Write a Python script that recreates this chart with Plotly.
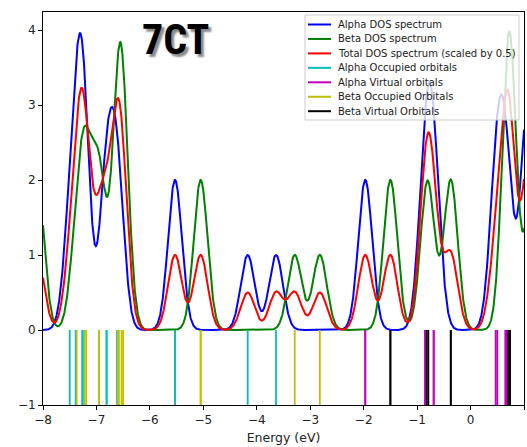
import numpy as np
import plotly.graph_objects as go

# Orbital energies (eV); repeated values are (near-)degenerate levels
alpha_occupied = [-7.50, -7.39, -7.26, -7.26, -7.26, -6.81, -6.81, -6.61, -6.61,
                  -5.53, -5.53, -4.17, -3.64]
alpha_virtual = [-1.97, -1.97, -0.85, -0.85, -0.69, -0.69,
                 0.47, 0.50, 0.65, 0.68, 1.07, 1.07, 1.07]
beta_occupied = [-8.11, -8.11, -7.37, -7.22, -7.19, -6.95, -6.95,
                 -6.60, -6.58, -6.53, -6.50, -5.05, -5.05, -3.29, -2.82]
beta_virtual = [-1.50, -1.50, -0.82, -0.79, -0.37, -0.37,
                0.71, 0.71, 0.74, 0.74, 1.20, 1.20, 1.20]

legend_labels = ["Alpha DOS spectrum", "Beta DOS spectrum",
                 "Total DOS spectrum (scaled by 0.5)", "Alpha Occupied orbitals",
                 "Alpha Virtual orbitals", "Beta Occupied Orbitals",
                 "Beta Virtual Orbitals"]
x_ticks = [-8, -7, -6, -5, -4, -3, -2, -1, 0, 1]
y_ticks = [-1, 0, 1, 2, 3, 4]
title_text = "7CT"

# Gaussian broadening of the levels
SIGMA = 0.13
energy = np.linspace(-8.0, 1.0, 1801)


def broaden(levels):
    lv = np.asarray(levels, dtype=float)
    return np.exp(-((energy[:, None] - lv[None, :]) ** 2) / (2 * SIGMA ** 2)).sum(axis=1)


alpha_dos = broaden(alpha_occupied + alpha_virtual)
beta_dos = broaden(beta_occupied + beta_virtual)
total_dos = 0.5 * (alpha_dos + beta_dos)

colors = ["#0000ff", "#008000", "#ff0000", "#00bfbf", "#bf00bf", "#bfbf00", "#000000"]


def sticks(levels):
    xs, ys = [], []
    for e in levels:
        xs += [e, e, None]
        ys += [-1, 0, None]
    return xs, ys


fig = go.Figure()
for y, c in zip([alpha_dos, beta_dos, total_dos], colors[:3]):
    fig.add_trace(go.Scatter(x=energy, y=y, mode="lines",
                             line=dict(color=c, width=2), showlegend=False,
                             hoverinfo="skip"))
for levels, c in zip([alpha_occupied, alpha_virtual, beta_occupied, beta_virtual],
                     colors[3:]):
    xs, ys = sticks(levels)
    fig.add_trace(go.Scatter(x=xs, y=ys, mode="lines",
                             line=dict(color=c, width=1.8), showlegend=False,
                             hoverinfo="skip"))

W, H = 527, 447
ML, MR, MT, MB = 43, 3, 12, 42


def px_x(px):
    return (px - ML) / (W - ML - MR)


def px_y(py):
    return (H - MB - py) / (H - MT - MB)


font_main = "DejaVu Sans, Verdana, sans-serif"

# Legend panel drawn as a translucent box with line samples and labels
shapes = [dict(type="rect", xref="paper", yref="paper",
               x0=px_x(305), x1=px_x(519), y0=px_y(120), y1=px_y(15),
               fillcolor="rgba(255,255,255,0.8)",
               line=dict(color="#cccccc", width=1), layer="above")]
annotations = []
for i, (lab, c) in enumerate(zip(legend_labels, colors)):
    row = 24.5 + 14.45 * i
    shapes.append(dict(type="line", xref="paper", yref="paper",
                       x0=px_x(308), x1=px_x(331), y0=px_y(row), y1=px_y(row),
                       line=dict(color=c, width=2), layer="above"))
    annotations.append(dict(text=lab, xref="paper", yref="paper",
                            x=px_x(336), y=px_y(row), xanchor="left",
                            yanchor="middle", showarrow=False,
                            font=dict(family=font_main, size=10, color="#1a1a1a")))

title_font = "Liberation Sans Narrow, Roboto Condensed, Arial Narrow, sans-serif"
annotations.append(dict(text="<b>%s</b>" % title_text, xref="paper", yref="paper",
                        x=px_x(175), y=px_y(40), xanchor="center",
                        yanchor="middle", showarrow=False,
                        font=dict(family=title_font, size=42, color="#000000",
                                  shadow="3px 3px 2px #8c8c8c")))

axis_common = dict(showline=True, linecolor="black", linewidth=1, mirror=True,
                   ticks="outside", ticklen=4, tickwidth=1, tickcolor="black",
                   showgrid=False, zeroline=False,
                   tickfont=dict(family=font_main, size=12, color="#222222"))

fig.update_layout(
    width=W, height=H,
    margin=dict(l=ML, r=MR, t=MT, b=MB),
    paper_bgcolor="white", plot_bgcolor="white",
    xaxis=dict(range=[-8, 1], tickvals=x_ticks,
               title=dict(text="Energy (eV)", standoff=6,
                          font=dict(family=font_main, size=12.5, color="#222222")),
               **axis_common),
    yaxis=dict(range=[-1, 4.24], tickvals=y_ticks, **axis_common),
    shapes=shapes, annotations=annotations,
)

fig.write_html("out.html")
